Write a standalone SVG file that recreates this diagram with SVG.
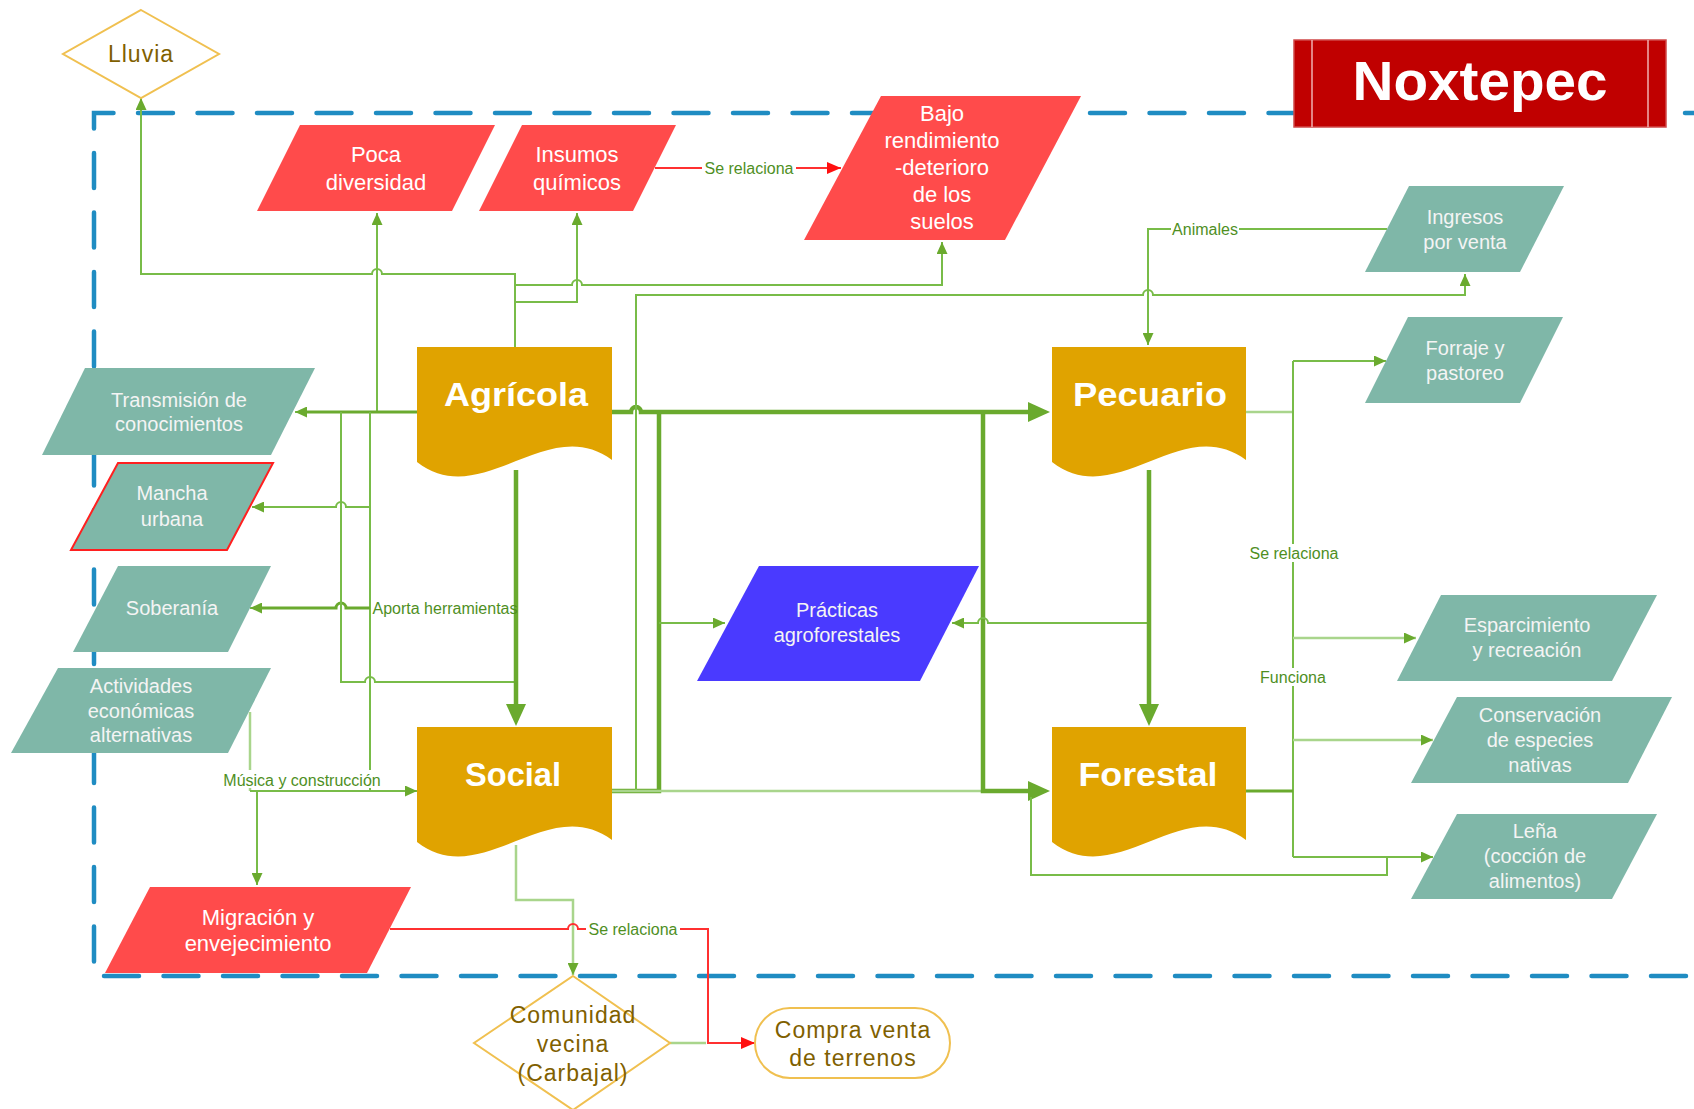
<svg xmlns="http://www.w3.org/2000/svg" width="1694" height="1109" viewBox="0 0 1694 1109">
<defs>
<style>
.tl{fill:#7FB7A8}
.rd{fill:#FF4B4B}
.gd{fill:#E0A300}
.bl{fill:#4A3AFF}
.dm{fill:#FFFFFF;stroke:#F0C050;stroke-width:2}
.nt{font-family:"Liberation Sans",Arial,sans-serif;font-size:20px;fill:#F4F4F4;text-anchor:middle}
.nr{font-family:"Liberation Sans",Arial,sans-serif;font-size:22px;fill:#FFFFFF;text-anchor:middle}
.ny{font-family:"Liberation Sans",Arial,sans-serif;font-size:23px;fill:#7F6000;text-anchor:middle;letter-spacing:1px}
.hd{font-family:"Liberation Sans",Arial,sans-serif;font-size:33px;font-weight:bold;fill:#FFFFFF;text-anchor:middle}
.lb{font-family:"Liberation Sans",Arial,sans-serif;font-size:16px;fill:#4F8F1F;text-anchor:middle}
.ln{fill:none;stroke:#78BC48;stroke-width:2}
.lt{fill:none;stroke:#A9D58C;stroke-width:2.5}
.md{fill:none;stroke:#6AAA2E;stroke-width:3}
.tk{fill:none;stroke:#6AAA2E;stroke-width:4.5}
.rl{fill:none;stroke:#FF3030;stroke-width:2}
.bd{fill:none;stroke:#1F8CC2;stroke-width:4.5;stroke-dasharray:35 24.5;stroke-linecap:round}
</style>
<marker id="ag" viewBox="0 0 12 11" refX="12" refY="5.5" markerWidth="12" markerHeight="11" orient="auto" markerUnits="userSpaceOnUse"><path d="M0,0 L12,5.5 L0,11 Z" fill="#6AAA2E"/></marker>
<marker id="ak" viewBox="0 0 22 20" refX="0" refY="10" markerWidth="22" markerHeight="20" orient="auto" markerUnits="userSpaceOnUse"><path d="M0,0 L22,10 L0,20 Z" fill="#6AAA2E"/></marker>
<marker id="ar" viewBox="0 0 14 12" refX="14" refY="6" markerWidth="14" markerHeight="12" orient="auto" markerUnits="userSpaceOnUse"><path d="M0,0 L14,6 L0,12 Z" fill="#FF1010"/></marker>
</defs>
<rect width="1694" height="1109" fill="#FFFFFF"/>
<path class="bd" d="M1720,113 H94 V976 H1720"/>

<g id="connectors">
<path class="ln" d="M515,347 V274 H382 a5,5 0 0 0 -10,0 H141 V98" marker-end="url(#ag)"/>
<path class="ln" d="M515,285 H572 a5,5 0 0 1 10,0 H942 V242" marker-end="url(#ag)"/>
<path class="ln" d="M515,302 H577 V213" marker-end="url(#ag)"/>
<path class="ln" d="M377,412 V213" marker-end="url(#ag)"/>
<path class="rl" d="M655,168 H841" marker-end="url(#ar)"/>
<path class="md" d="M417,412 H300"/>
<path class="ln" d="M300,412 H295" marker-end="url(#ag)"/>
<path class="ln" d="M370,412 V791"/>
<path class="ln" d="M370,507 H346 a5,5 0 0 0 -10,0 H252" marker-end="url(#ag)"/>
<path class="md" d="M370,608 H346 a5,5 0 0 0 -10,0 H262"/>
<path class="ln" d="M262,608 H250" marker-end="url(#ag)"/>
<path class="ln" d="M341,412 V682 H365 a5,5 0 0 1 10,0 H516"/>
<path class="lt" d="M250,712 V791"/>
<path class="ln" d="M250,791 H417" marker-end="url(#ag)"/>
<path class="ln" d="M257,791 V885" marker-end="url(#ag)"/>
<path class="tk" d="M516,470 V704" marker-end="url(#ak)"/>
<path class="tk" d="M612,412 H631 a5,5 0 0 1 10,0 H1028" marker-end="url(#ak)"/>
<path class="tk" d="M612,791 H659 V412"/>
<path class="ln" d="M636,791 V295 H1143 a5,5 0 0 1 10,0 H1465 V274" marker-end="url(#ag)"/>
<path class="ln" d="M659,623 H725" marker-end="url(#ag)"/>
<path class="lt" d="M612,791 H1040"/>
<path class="tk" d="M983,412 V791 H1028" marker-end="url(#ak)"/>
<path class="ln" d="M1149,623 H988 a5,5 0 0 0 -10,0 H952" marker-end="url(#ag)"/>
<path class="tk" d="M1149,470 V704" marker-end="url(#ak)"/>
<path class="ln" d="M1387,229 H1148 V345" marker-end="url(#ag)"/>
<path class="lt" d="M1246,412 H1293"/>
<path class="ln" d="M1293,361 V857"/>
<path class="ln" d="M1293,361 H1386" marker-end="url(#ag)"/>
<path class="lt" d="M1293,638 H1416" marker-end="url(#ag)"/>
<path class="lt" d="M1293,740 H1433" marker-end="url(#ag)"/>
<path class="ln" d="M1293,857 H1433" marker-end="url(#ag)"/>
<path class="md" d="M1246,791 H1293"/>
<path class="ln" d="M1031,797 V875 H1387 V857"/>
<path class="lt" d="M516,845 V900 H573 V975" marker-end="url(#ag)"/>
<path class="rl" d="M390,929 H568 a5,5 0 0 1 10,0 H708 V1043 H755" marker-end="url(#ar)"/>
<path class="lt" d="M670,1043 H706"/>
<g id="labels">
<rect x="702" y="159" width="94" height="18" fill="#FFFFFF"/>
<text class="lb" x="749" y="173.5">Se relaciona</text>
<rect x="1171" y="220" width="68" height="18" fill="#FFFFFF"/>
<text class="lb" x="1205" y="234.5">Animales</text>
<text class="lb" x="445" y="613.5">Aporta herramientas</text>
<rect x="219" y="770" width="166" height="18" fill="#FFFFFF"/>
<text class="lb" x="302" y="786">Música y construcción</text>
<rect x="1247" y="544" width="94" height="18" fill="#FFFFFF"/>
<text class="lb" x="1294" y="558.5">Se relaciona</text>
<rect x="1259" y="668" width="69" height="18" fill="#FFFFFF"/>
<text class="lb" x="1293" y="682.5">Funciona</text>
<rect x="586" y="920" width="94" height="18" fill="#FFFFFF"/>
<text class="lb" x="633" y="934.5">Se relaciona</text>
</g>
</g>

<g id="lluvia">
<polygon class="dm" points="141,10 219,54 141,98 63,54"/>
<text class="ny" x="141" y="62">Lluvia</text>
</g>
<g id="poca-diversidad">
<polygon class="rd" points="300,125 495,125 452,211 257,211"/>
<text class="nr" x="376" y="162">Poca</text>
<text class="nr" x="376" y="190">diversidad</text>
</g>
<g id="insumos-quimicos">
<polygon class="rd" points="522,125 676,125 633,211 479,211"/>
<text class="nr" x="577" y="162">Insumos</text>
<text class="nr" x="577" y="190">químicos</text>
</g>
<g id="bajo-rendimiento">
<polygon class="rd" points="881,96 1081,96 1005,240 804,240"/>
<text class="nr" x="942" y="121">Bajo</text>
<text class="nr" x="942" y="148">rendimiento</text>
<text class="nr" x="942" y="175">-deterioro</text>
<text class="nr" x="942" y="202">de los</text>
<text class="nr" x="942" y="229">suelos</text>
</g>
<g id="noxtepec">
<rect x="1294" y="40" width="372" height="87" fill="#C00000" stroke="#D04848" stroke-width="1.5"/>
<line x1="1312" y1="40" x2="1312" y2="127" stroke="#F0B0B0" stroke-width="1.5"/>
<line x1="1648" y1="40" x2="1648" y2="127" stroke="#F0B0B0" stroke-width="1.5"/>
<text x="1480" y="100" font-family="Liberation Sans, Arial, sans-serif" font-size="55" font-weight="bold" fill="#FFFFFF" text-anchor="middle" textLength="255" lengthAdjust="spacingAndGlyphs">Noxtepec</text>
</g>
<g id="ingresos">
<polygon class="tl" points="1409,186 1564,186 1520,272 1365,272"/>
<text class="nt" x="1465" y="224">Ingresos</text>
<text class="nt" x="1465" y="249">por venta</text>
</g>
<g id="forraje">
<polygon class="tl" points="1408,317 1563,317 1520,403 1365,403"/>
<text class="nt" x="1465" y="355">Forraje y</text>
<text class="nt" x="1465" y="380">pastoreo</text>
</g>
<g id="transmision">
<polygon class="tl" points="85,368 315,368 271,455 42,455"/>
<text class="nt" x="179" y="407">Transmisión de</text>
<text class="nt" x="179" y="431">conocimientos</text>
</g>
<g id="mancha-urbana">
<polygon class="tl" points="118,463 273,463 227,550 71,550" stroke="#FF2020" stroke-width="2"/>
<text class="nt" x="172" y="500">Mancha</text>
<text class="nt" x="172" y="526">urbana</text>
</g>
<g id="soberania">
<polygon class="tl" points="118,566 271,566 228,652 73,652"/>
<text class="nt" x="172" y="615">Soberanía</text>
</g>
<g id="actividades">
<polygon class="tl" points="58,668 271,668 228,753 11,753"/>
<text class="nt" x="141" y="693">Actividades</text>
<text class="nt" x="141" y="718">económicas</text>
<text class="nt" x="141" y="742">alternativas</text>
</g>
<g id="agricola">
<path class="gd" d="M417,347 H612 V460 C547,412 482,512 417,462 Z"/>
<text class="hd" x="516" y="406" textLength="144" lengthAdjust="spacingAndGlyphs">Agrícola</text>
</g>
<g id="pecuario">
<path class="gd" d="M1052,347 H1246 V460 C1181,412 1117,512 1052,462 Z"/>
<text class="hd" x="1150" y="406" textLength="154" lengthAdjust="spacingAndGlyphs">Pecuario</text>
</g>
<g id="social">
<path class="gd" d="M417,727 H612 V840 C547,792 482,892 417,842 Z"/>
<text class="hd" x="513" y="786" textLength="96" lengthAdjust="spacingAndGlyphs">Social</text>
</g>
<g id="forestal">
<path class="gd" d="M1052,727 H1246 V840 C1181,792 1117,892 1052,842 Z"/>
<text class="hd" x="1148" y="786" textLength="139" lengthAdjust="spacingAndGlyphs">Forestal</text>
</g>
<g id="practicas">
<polygon class="bl" points="759,566 979,566 920,681 697,681"/>
<text class="nt" x="837" y="617">Prácticas</text>
<text class="nt" x="837" y="642">agroforestales</text>
</g>
<g id="esparcimiento">
<polygon class="tl" points="1441,595 1657,595 1612,681 1397,681"/>
<text class="nt" x="1527" y="632">Esparcimiento</text>
<text class="nt" x="1527" y="657">y recreación</text>
</g>
<g id="conservacion">
<polygon class="tl" points="1457,697 1672,697 1628,783 1411,783"/>
<text class="nt" x="1540" y="722">Conservación</text>
<text class="nt" x="1540" y="747">de especies</text>
<text class="nt" x="1540" y="772">nativas</text>
</g>
<g id="lena">
<polygon class="tl" points="1457,814 1657,814 1612,899 1411,899"/>
<text class="nt" x="1535" y="838">Leña</text>
<text class="nt" x="1535" y="863">(cocción de</text>
<text class="nt" x="1535" y="888">alimentos)</text>
</g>
<g id="migracion">
<polygon class="rd" points="150,887 411,887 367,973 105,973"/>
<text class="nr" x="258" y="925">Migración y</text>
<text class="nr" x="258" y="951">envejecimiento</text>
</g>
<g id="comunidad-vecina">
<polygon class="dm" points="573,976 670,1043 573,1110 474,1043"/>
<text class="ny" x="573" y="1023">Comunidad</text>
<text class="ny" x="573" y="1052">vecina</text>
<text class="ny" x="573" y="1081">(Carbajal)</text>
</g>
<g id="compra-venta">
<rect class="dm" x="755" y="1008" width="195" height="70" rx="35" ry="35"/>
<text class="ny" x="853" y="1038">Compra venta</text>
<text class="ny" x="853" y="1066">de terrenos</text>
</g>
</svg>
